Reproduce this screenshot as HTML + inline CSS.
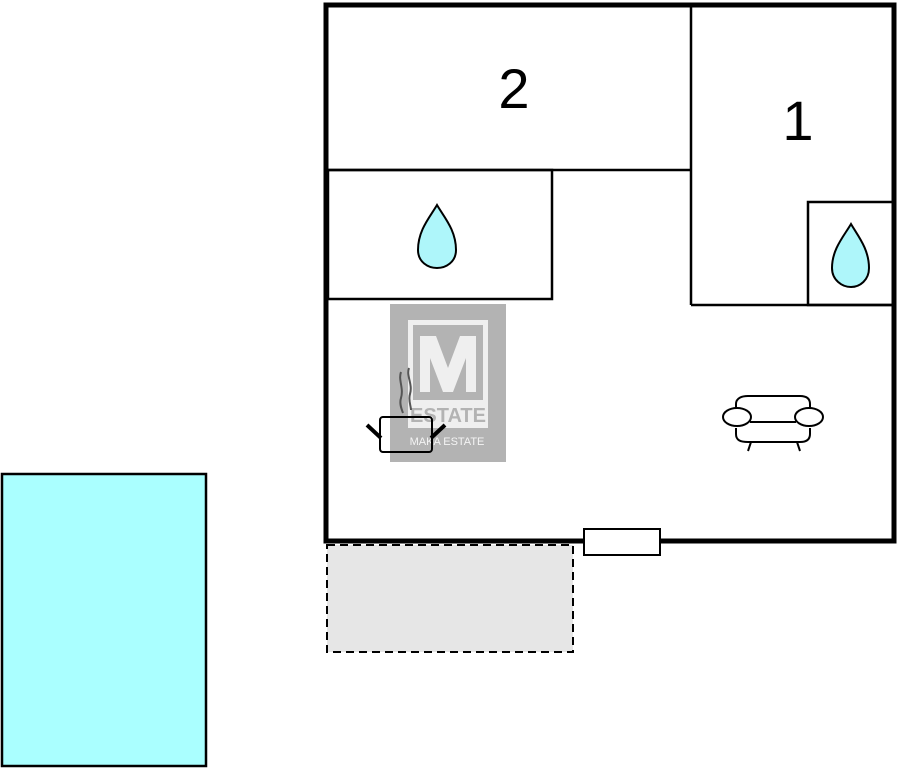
<!DOCTYPE html>
<html><head><meta charset="utf-8"><style>html,body{margin:0;padding:0;background:#fff}svg{display:block}</style></head>
<body>
<svg width="898" height="768" viewBox="0 0 898 768" xmlns="http://www.w3.org/2000/svg">
<rect x="2" y="474" width="204" height="292" fill="#aaffff" stroke="#000" stroke-width="2.5"/>
<rect x="327" y="545" width="246" height="107" fill="#e6e6e6" stroke="#000" stroke-width="2" stroke-dasharray="8,5"/>
<g fill="none" stroke="#000">
<line x1="327" y1="170" x2="691" y2="170" stroke-width="2.5"/>
<line x1="691" y1="5" x2="691" y2="305" stroke-width="2.5"/>
<line x1="691" y1="305" x2="894" y2="305" stroke-width="2.5"/>
<rect x="328" y="170" width="224" height="129" stroke-width="2.5"/>
<rect x="808" y="202" width="86" height="103" stroke-width="2.5"/>
<rect x="326" y="5" width="568" height="536" stroke-width="5"/>
</g>
<rect x="584" y="529" width="76" height="26" fill="#fff" stroke="#000" stroke-width="2"/>
<path d="M437 205 C430 217,418 230,418 250 C418 262,428 268,437 268 C446 268,456 262,456 250 C456 230,444 217,437 205Z" fill="#aef6fa" stroke="#000" stroke-width="2"/>
<path d="M851 224 C844 236,832 249,832 268 C832 280,842 287,851 287 C860 287,869 280,869 268 C869 249,858 236,851 224Z" fill="#aef6fa" stroke="#000" stroke-width="2"/>
<text x="514" y="108" font-family="Liberation Sans, sans-serif" font-size="56" text-anchor="middle">2</text>
<text x="798" y="140" font-family="Liberation Sans, sans-serif" font-size="56" text-anchor="middle">1</text>
<rect x="390" y="304" width="116" height="158" fill="#b3b3b3"/>
<rect x="408" y="320" width="80" height="108" fill="#efefef"/>
<rect x="413" y="325" width="70" height="75" fill="#b3b3b3"/>
<path d="M420 392 V336 H436 L448 368 L460 336 H476 V392 H466 V358 L453 392 H443 L430 358 V392Z" fill="#efefef"/>
<text x="448" y="422" font-family="Liberation Sans, sans-serif" font-size="20" font-weight="bold" fill="#b3b3b3" text-anchor="middle">ESTATE</text>
<text x="447" y="445" font-family="Liberation Sans, sans-serif" font-size="11" fill="#f4f4f4" text-anchor="middle">MAKA ESTATE</text>
<g fill="none" stroke="#000">
<rect x="380" y="417" width="52" height="35" rx="3" stroke-width="2"/>
<line x1="367" y1="425" x2="381" y2="438" stroke-width="4"/>
<line x1="445" y1="425" x2="431" y2="438" stroke-width="4"/>
<path d="M401 372 C398 380,404 388,401 398 C399 404,402 410,403 413" stroke="#555" stroke-width="2"/>
<path d="M409 368 C406 376,413 384,410 394 C408 400,411 406,411 410" stroke="#555" stroke-width="2"/>
<g stroke-width="2">
<path d="M736 420 V404 C736 398,742 396,748 396 H800 C806 396,810 398,810 404 V420"/>
<path d="M736 428 V434 C736 440,740 442,748 442 H800 C806 442,810 440,810 434 V428"/>
<ellipse cx="737" cy="417" rx="14" ry="9" fill="#fff"/>
<ellipse cx="809" cy="417" rx="14" ry="9" fill="#fff"/>
<line x1="750" y1="422" x2="796" y2="422"/>
<line x1="751" y1="442" x2="748" y2="451"/>
<line x1="797" y1="442" x2="800" y2="451"/>
</g>
</g>
</svg>
</body></html>
